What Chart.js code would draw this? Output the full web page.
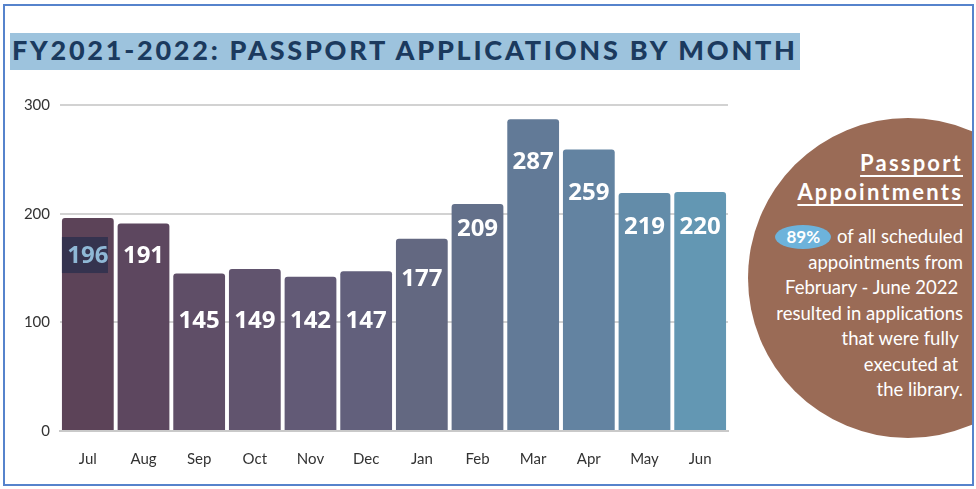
<!DOCTYPE html>
<html>
<head>
<meta charset="utf-8">
<title>Passport Applications by Month</title>
<script src="https://cdn.jsdelivr.net/npm/chart.js"></script>
<style>
  html, body { margin: 0; padding: 0; background: #fff; }
  #page { position: relative; width: 976px; height: 489px; overflow: hidden; font-family: Lato, "Open Sans", sans-serif; }
  #frame { position: absolute; left: 3px; top: 4px; width: 967px; height: 478px; border: 2px solid #5683CC; }
  #clip { position: absolute; left: 5px; top: 6px; width: 967px; height: 478px; overflow: hidden; }
  #circle { position: absolute; left: 743px; top: 112px; width: 320px; height: 320px; border-radius: 50%; background: #9A6B56; }
  #title { position: absolute; left: 10px; top: 33px; height: 37px; line-height: 37px; padding: 0 2px 0 2px;
           background: #9DC3DD; color: #1B3A5E; font: 900 27px Lato, sans-serif; letter-spacing: 2.75px; white-space: nowrap; }
  #note { position: absolute; left: 660px; width: 303px; top: 148px; text-align: right; color: #fff; }
  #note .head { font: 700 22px Lato, sans-serif; letter-spacing: 2.2px; text-decoration: underline; text-underline-offset: 4px; line-height: 29px; }
  #note .body { font: 400 18.5px Lato, sans-serif; line-height: 25.5px; margin-top: 18px; white-space: pre; }
  #note .pill { display: inline-block; background: #6DB3DB; border-radius: 50%; padding: 0 11px; font-weight: 700; font-size: 17px; margin-right: 6px; line-height: 24px; }
  canvas { position: absolute; left: 0; top: 0; }
</style>
</head>
<body>
<div id="page">
  <div id="clip"><div id="circle"></div></div>
  <div id="frame"></div>
  <div id="title">FY2021-2022: PASSPORT APPLICATIONS BY MONTH</div>
  <div id="note">
    <div class="head">Passport<br>Appointments</div>
    <div class="body"><span class="pill">89%</span>of all scheduled<br>appointments from<br>February - June 2022 <br>resulted in applications<br>that were fully <br>executed at <br>the library.</div>
  </div>
  <canvas id="barChart" width="740" height="489"></canvas>
</div>

<script>
    const months = ['Jul', 'Aug', 'Sep', 'Oct', 'Nov', 'Dec', 'Jan', 'Feb', 'Mar', 'Apr', 'May', 'Jun'];
    const applications = [196, 191, 145, 149, 142, 147, 177, 209, 287, 259, 219, 220];
    const yTicks = [0, 100, 200, 300];

    const barColors = ['#5C4358', '#5D475F', '#5F4E67', '#61546E', '#625A76', '#62607C',
                       '#636881', '#63708A', '#627A97', '#6383A1', '#638CA9', '#6397B3'];
    // label distance below the top of each bar (px), as placed in the original
    const labelDrop = [37, 32, 47, 51, 43, 49, 39, 24, 42, 43, 33, 34];

    const valueLabels = {
        id: 'valueLabels',
        afterDatasetsDraw(chart) {
            const c = chart.ctx;
            const bars = chart.getDatasetMeta(0).data;
            c.save();
            c.font = 'bold 24px "Open Sans"';
            c.textAlign = 'center';
            c.textBaseline = 'middle';
            bars.forEach((bar, i) => {
                const y = bar.y + labelDrop[i];
                const txt = String(applications[i]);
                if (i === 0) {
                    // selected text look on the first bar
                    c.fillStyle = '#35334F';
                    c.fillRect(bar.x - bar.width / 2, y - 18, 46, 36);
                    c.fillStyle = '#8FB8D6';
                } else {
                    c.fillStyle = '#ffffff';
                }
                c.fillText(txt, bar.x, y + 1);
            });
            c.restore();
        }
    };

    const ctx = document.getElementById('barChart').getContext('2d');
    const barChart = new Chart(ctx, {
        type: 'bar',
        data: {
            labels: months,
            datasets: [{
                data: applications,
                backgroundColor: barColors,
                borderRadius: { topLeft: 3, topRight: 3 },
                borderSkipped: 'bottom',
                barPercentage: 0.93,
                categoryPercentage: 1.0
            }]
        },
        options: {
            responsive: false,
            devicePixelRatio: 1,
            animation: false,
            layout: { padding: { top: 105, right: 12, left: 0, bottom: 0 } },
            plugins: { legend: { display: false }, tooltip: { enabled: false } },
            scales: {
                x: {
                    grid: { display: false },
                    border: { color: '#C9C9C9', width: 2 },
                    ticks: { color: '#333', font: { family: 'Lato', size: 15 }, padding: 11 },
                    afterFit: (scale) => { scale.height = 58; }
                },
                y: {
                    min: 0,
                    max: 300,
                    afterBuildTicks: (scale) => { scale.ticks = yTicks.map(v => ({ value: v })); },
                    grid: { color: '#D2D2D2', lineWidth: 2, drawTicks: false },
                    border: { display: false },
                    ticks: { color: '#333', font: { family: 'Lato', size: 15 }, padding: 10 },
                    afterFit: (scale) => { scale.width = 60; }
                }
            }
        },
        plugins: [valueLabels]
    });
</script>
</body>
</html>
